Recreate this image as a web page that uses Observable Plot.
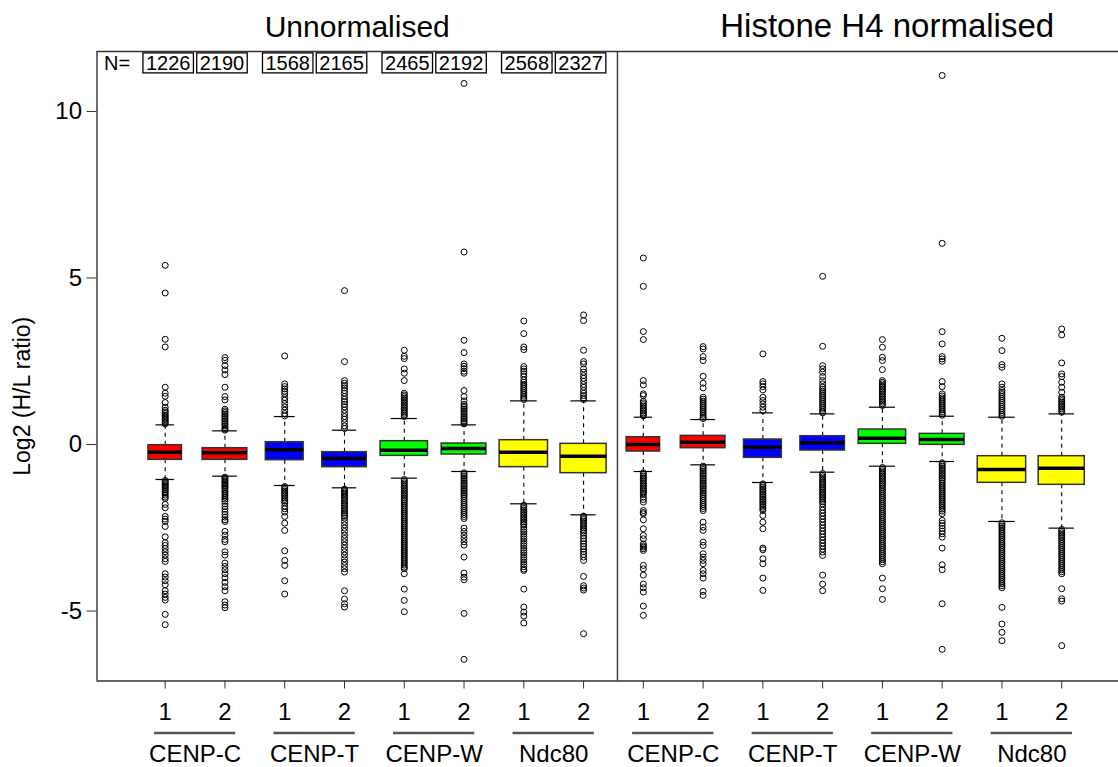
<!DOCTYPE html>
<html>
<head>
<meta charset="utf-8">
<script src="https://cdn.jsdelivr.net/npm/d3@7"></script>
<script src="https://cdn.jsdelivr.net/npm/@observablehq/plot@0.6"></script>
<style>
  html, body { margin: 0; padding: 0; background: #fff; }
  svg { display: block; }
</style>
</head>
<body>
<div id="chart"></div>
<script>
// ---------------- data ----------------
const panels = ["Unnormalised", "Histone H4 normalised"];
const groups = ["CENP-C", "CENP-T", "CENP-W", "Ndc80"];
const reps = ["1", "2"];
const groupColors = ["#ff0000", "#0000ff", "#00ff00", "#ffff00"];
const counts = [1226, 2190, 1568, 2165, 2465, 2192, 2568, 2327];
const yTicks = [-5, 0, 5, 10];

// box statistics, 16 boxes: 8 unnormalised then 8 normalised
const lowWhisker = [-1.05, -0.95, -1.23, -1.30, -1.01, -0.81, -1.78, -2.11,
                    -0.81, -0.61, -1.14, -0.83, -0.65, -0.51, -2.31, -2.51];
const q1 =         [-0.46, -0.46, -0.47, -0.68, -0.34, -0.30, -0.68, -0.86,
                    -0.21, -0.11, -0.40, -0.18, 0.02, -0.01, -1.15, -1.21];
const medians =    [-0.23, -0.25, -0.16, -0.42, -0.17, -0.12, -0.23, -0.35,
                    0.00, 0.07, -0.08, 0.05, 0.19, 0.15, -0.75, -0.71];
const q3 =         [-0.02, -0.11, 0.07, -0.23, 0.10, 0.03, 0.13, 0.02,
                    0.22, 0.26, 0.15, 0.25, 0.45, 0.32, -0.35, -0.35];
const highWhisker = [0.59, 0.41, 0.84, 0.43, 0.78, 0.59, 1.31, 1.31,
                     0.82, 0.75, 0.95, 0.92, 1.12, 0.85, 0.82, 0.92];

const outliersUnnormalised = [
  [5.38, 4.55, 3.16, 2.93, 1.72, 1.54, 1.45, 1.26, 1.12, 1.03, 0.98, 0.93, 0.88, 0.84, 0.79, 0.75, 0.71, 0.66, 0.62,
   -1.08, -1.12, -1.16, -1.2, -1.24, -1.28, -1.32, -1.36, -1.41, -1.46, -1.52, -1.58, -1.62, -1.80, -1.90, -2.16, -2.24, -2.31, -2.46, -2.77, -2.95, -3.03, -3.12, -3.22, -3.32, -3.43, -3.51, -3.88, -3.98, -4.09, -4.21, -4.39, -4.49, -4.59, -4.67, -5.10, -5.41],
  [2.61, 2.53, 2.37, 2.24, 2.10, 1.72, 1.44, 1.34, 1.06, 1.01, 0.96, 0.91, 0.86, 0.81, 0.76, 0.71, 0.66, 0.61, 0.56, 0.51, 0.46, 0.43,
   -0.98, -1.02, -1.06, -1.10, -1.14, -1.18, -1.22, -1.26, -1.30, -1.34, -1.40, -1.46, -1.52, -1.58, -1.64, -1.70, -1.78, -1.86, -1.94, -2.02, -2.10, -2.18, -2.26, -2.31, -2.61, -2.72, -2.85, -2.92, -3.22, -3.32, -3.56, -3.66, -3.76, -3.88, -4.00, -4.14, -4.27, -4.39, -4.72, -4.82, -4.90],
  [2.66, 1.82, 1.74, 1.67, 1.60, 1.52, 1.41, 1.33, 1.23, 1.13, 1.03, 0.93, 0.86,
   -1.26, -1.30, -1.35, -1.40, -1.45, -1.50, -1.55, -1.60, -1.65, -1.70, -1.75, -1.85, -1.93, -2.03, -2.16, -2.36, -2.58, -3.19, -3.48, -3.63, -4.09, -4.49],
  [4.62, 2.49, 1.92, 1.84, 1.77, 1.70, 1.62, 1.54, 1.44, 1.36, 1.29, 1.21, 1.13, 1.03, 0.93, 0.84, 0.76, 0.66, 0.56, 0.48,
   -1.34, -1.38, -1.42, -1.46, -1.50, -1.55, -1.60, -1.65, -1.70, -1.75, -1.80, -1.85, -1.90, -1.95, -2.00, -2.05, -2.10, -2.15, -2.21, -2.31, -2.41, -2.51, -2.61, -2.72, -2.82, -2.92, -3.02, -3.12, -3.22, -3.32, -3.43, -3.53, -3.63, -3.73, -3.83, -4.39, -4.64, -4.78, -4.88],
  [2.83, 2.65, 2.58, 2.27, 2.14, 1.92, 1.54, 1.49, 1.44, 1.39, 1.34, 1.29, 1.24, 1.19, 1.14, 1.09, 1.04, 0.99, 0.94, 0.89, 0.84,
   -1.05, -1.10, -1.15, -1.20, -1.25, -1.30, -1.35, -1.40, -1.45, -1.50, -1.55, -1.60, -1.65, -1.70, -1.76, -1.82, -1.88, -1.94, -2.00, -2.06, -2.12, -2.18, -2.24, -2.30, -2.36, -2.42, -2.48, -2.54, -2.60, -2.66, -2.72, -2.78, -2.84, -2.90, -2.96, -3.02, -3.08, -3.14, -3.20, -3.26, -3.32, -3.38, -3.44, -3.50, -3.56, -3.62, -3.68, -3.73, -3.88, -4.34, -4.68, -5.02],
  [10.84, 5.78, 3.13, 2.76, 2.42, 2.35, 2.28, 2.20, 2.14, 1.62, 1.44, 1.31, 1.21, 1.16, 1.11, 1.06, 1.01, 0.96, 0.91, 0.86, 0.81, 0.76, 0.71, 0.66, 0.62,
   -0.85, -0.90, -0.95, -1.00, -1.05, -1.10, -1.15, -1.20, -1.25, -1.30, -1.35, -1.40, -1.45, -1.50, -1.56, -1.62, -1.68, -1.74, -1.80, -1.86, -1.92, -1.98, -2.04, -2.10, -2.16, -2.22, -2.51, -2.61, -2.72, -2.82, -2.92, -3.02, -3.38, -3.86, -3.98, -4.06, -5.07, -6.45],
  [3.71, 3.33, 2.93, 2.85, 2.34, 2.27, 2.20, 2.12, 2.04, 1.94, 1.87, 1.81, 1.75, 1.69, 1.63, 1.57, 1.51, 1.45, 1.40, 1.35,
   -1.82, -1.87, -1.92, -1.97, -2.02, -2.07, -2.12, -2.17, -2.22, -2.27, -2.32, -2.37, -2.41, -2.48, -2.55, -2.62, -2.69, -2.76, -2.83, -2.90, -2.97, -3.04, -3.11, -3.18, -3.25, -3.32, -3.39, -3.46, -3.53, -3.60, -3.67, -3.74, -3.78, -4.34, -4.88, -5.03, -5.15, -5.36],
  [3.89, 3.72, 2.83, 2.49, 2.42, 2.27, 2.17, 2.07, 1.99, 1.90, 1.80, 1.72, 1.62, 1.54, 1.47, 1.40, 1.35,
   -2.15, -2.20, -2.25, -2.30, -2.35, -2.40, -2.45, -2.50, -2.55, -2.60, -2.66, -2.74, -2.82, -2.90, -2.98, -3.06, -3.14, -3.22, -3.30, -3.38, -3.48, -3.96, -4.24, -4.31, -4.37, -5.68]
];
const outliersNormalised = [
  [5.60, 4.75, 3.39, 3.15, 1.92, 1.79, 1.52, 1.47, 1.30, 1.25, 1.20, 1.15, 1.10, 1.05, 1.00, 0.95, 0.90, 0.86,
   -0.85, -0.90, -0.95, -1.00, -1.05, -1.10, -1.15, -1.20, -1.25, -1.30, -1.35, -1.40, -1.45, -1.50, -1.58, -1.65, -1.73, -1.98, -2.04, -2.08, -2.26, -2.53, -2.73, -2.83, -2.98, -3.04, -3.08, -3.13, -3.18, -3.63, -3.73, -3.92, -4.19, -4.30, -4.43, -4.85, -5.13],
  [2.94, 2.87, 2.64, 2.52, 2.05, 1.84, 1.70, 1.42, 1.36, 1.30, 1.24, 1.18, 1.12, 1.06, 1.00, 0.94, 0.88, 0.82, 0.78,
   -0.65, -0.70, -0.75, -0.80, -0.85, -0.90, -0.95, -1.00, -1.05, -1.10, -1.15, -1.20, -1.25, -1.30, -1.35, -1.40, -1.45, -1.50, -1.56, -1.62, -1.68, -1.74, -1.80, -1.86, -1.92, -1.98, -2.33, -2.48, -2.58, -2.93, -3.03, -3.28, -3.38, -3.48, -3.58, -3.78, -3.88, -4.01, -4.41, -4.53],
  [2.72, 1.89, 1.82, 1.74, 1.64, 1.42, 1.32, 1.22, 1.12, 1.02,
   -1.18, -1.23, -1.28, -1.33, -1.38, -1.43, -1.48, -1.53, -1.58, -1.63, -1.68, -1.73, -1.78, -1.83, -1.88, -1.93, -1.98, -2.13, -2.33, -2.53, -3.11, -3.16, -3.43, -3.58, -4.01, -4.38],
  [5.05, 2.95, 2.37, 2.27, 2.17, 2.04, 1.92, 1.82, 1.72, 1.66, 1.60, 1.54, 1.48, 1.42, 1.36, 1.30, 1.24, 1.18, 1.12, 1.06, 1.00, 0.95,
   -0.87, -0.92, -0.97, -1.02, -1.07, -1.12, -1.17, -1.22, -1.27, -1.32, -1.37, -1.42, -1.47, -1.52, -1.57, -1.62, -1.67, -1.72, -1.78, -1.88, -1.97, -2.06, -2.15, -2.24, -2.33, -2.42, -2.51, -2.60, -2.69, -2.78, -2.87, -2.96, -3.05, -3.14, -3.23, -3.33, -3.92, -4.19, -4.39],
  [3.15, 2.92, 2.62, 2.52, 2.25, 1.92, 1.87, 1.82, 1.77, 1.72, 1.67, 1.62, 1.57, 1.52, 1.47, 1.42, 1.37, 1.32, 1.27, 1.22, 1.17,
   -0.69, -0.74, -0.79, -0.84, -0.89, -0.94, -0.99, -1.04, -1.09, -1.14, -1.19, -1.24, -1.30, -1.36, -1.42, -1.48, -1.54, -1.60, -1.66, -1.72, -1.78, -1.84, -1.90, -1.96, -2.02, -2.08, -2.14, -2.20, -2.26, -2.32, -2.38, -2.44, -2.50, -2.56, -2.62, -2.68, -2.74, -2.80, -2.86, -2.92, -2.98, -3.04, -3.10, -3.16, -3.22, -3.28, -3.34, -3.40, -3.46, -3.52, -3.58, -4.01, -4.33, -4.65],
  [11.08, 6.04, 3.39, 3.02, 2.64, 2.57, 2.50, 1.89, 1.74, 1.52, 1.46, 1.40, 1.34, 1.28, 1.22, 1.16, 1.10, 1.04, 0.98, 0.92, 0.88,
   -0.55, -0.60, -0.65, -0.70, -0.75, -0.80, -0.85, -0.90, -0.95, -1.00, -1.05, -1.10, -1.16, -1.22, -1.28, -1.34, -1.40, -1.46, -1.52, -1.58, -1.64, -1.70, -1.76, -1.82, -1.88, -1.94, -2.00, -2.08, -2.28, -2.36, -2.44, -2.52, -2.60, -2.68, -2.78, -3.11, -3.61, -3.76, -4.78, -6.15],
  [3.19, 2.82, 2.40, 2.32, 1.82, 1.72, 1.62, 1.56, 1.50, 1.44, 1.38, 1.32, 1.26, 1.20, 1.14, 1.08, 1.02, 0.96, 0.90, 0.85,
   -2.35, -2.40, -2.45, -2.50, -2.56, -2.62, -2.68, -2.74, -2.80, -2.86, -2.92, -2.98, -3.04, -3.10, -3.16, -3.22, -3.28, -3.34, -3.40, -3.46, -3.52, -3.58, -3.64, -3.70, -3.76, -3.82, -3.88, -3.94, -4.00, -4.06, -4.12, -4.18, -4.24, -4.30, -4.89, -5.39, -5.64, -5.89],
  [3.47, 3.29, 2.45, 2.12, 2.04, 1.87, 1.72, 1.57, 1.42, 1.37, 1.32, 1.27, 1.22, 1.17, 1.12, 1.07, 1.02, 0.97,
   -2.55, -2.60, -2.65, -2.70, -2.75, -2.80, -2.86, -2.92, -2.98, -3.04, -3.10, -3.16, -3.22, -3.28, -3.34, -3.40, -3.46, -3.52, -3.58, -3.64, -3.70, -3.76, -3.82, -3.88, -4.33, -4.63, -4.70, -6.04]
];

// ---------------- derived tables ----------------
const maxN = d3.max(counts);
const maxBoxWidth = 0.81;          // in box-slot units (varwidth: ∝ sqrt(N))
const boxes = d3.range(16).map(i => {
  const k = i % 8;
  const n = counts[k];
  const hw = maxBoxWidth / 2 * Math.sqrt(n / maxN);
  return {
    pos: i, panel: Math.floor(i / 8), group: Math.floor(k / 2), rep: k % 2, n, hw,
    color: groupColors[Math.floor(k / 2)],
    lw: lowWhisker[i], q1: q1[i], med: medians[i], q3: q3[i], uw: highWhisker[i]
  };
});
const allOutliers = outliersUnnormalised.concat(outliersNormalised);
const outlierRows = allOutliers.flatMap((vals, i) => vals.map(v => ({pos: i, v})));
const pairs = d3.range(8).map(j => ({
  label: groups[j % 4],
  center: (boxes[2 * j].pos + boxes[2 * j + 1].pos) / 2
}));
const nLabels = counts.map((n, k) => ({
  n: String(n),
  x: (boxes[k - (k % 2)].pos + boxes[k - (k % 2) + 1].pos) / 2 + (k % 2 === 0 ? -0.45 : 0.45)
}));

// ---------------- layout ----------------
const xDomain = [-1.141, 15.95];
const yDomain = [-7.10, 11.80];
const divider = 7.567;
const titleX = [3.213, 12.08];
const titleSize = [30, 33];
const frameColor = "#333";

const chart = Plot.plot({
  width: 1118,
  height: 767,
  marginLeft: 96.5,
  marginRight: 0,
  marginTop: 51,
  marginBottom: 86.5,
  style: {fontFamily: "'Liberation Sans', Arial, Helvetica, sans-serif", fontSize: "24px", color: "#000", background: "#fff"},
  x: {domain: xDomain},
  y: {domain: yDomain},
  color: {type: "identity"},
  marks: [
    // frame lines
    Plot.ruleY([yDomain[0], yDomain[1]], {stroke: frameColor, strokeWidth: 1.4}),
    Plot.ruleX([xDomain[0], divider], {stroke: frameColor, strokeWidth: 1.4}),
    // axes
    Plot.axisY({ticks: yTicks, tickFormat: d => String(d), tickSize: 10, tickPadding: 5, fontSize: 24, label: null, stroke: frameColor}),
    Plot.axisX({ticks: d3.range(16), tickFormat: d => reps[d % 2], tickSize: 8, tickPadding: 14, fontSize: 24, label: null, stroke: frameColor}),
    // whiskers
    Plot.ruleX(boxes, {x: "pos", y1: "q3", y2: "uw", stroke: "#000", strokeWidth: 1.1, strokeDasharray: "4,4"}),
    Plot.ruleX(boxes, {x: "pos", y1: "q1", y2: "lw", stroke: "#000", strokeWidth: 1.1, strokeDasharray: "4,4"}),
    Plot.ruleY(boxes, {y: "uw", x1: d => d.pos - d.hw * 0.55, x2: d => d.pos + d.hw * 0.55, stroke: "#000", strokeWidth: 1.2}),
    Plot.ruleY(boxes, {y: "lw", x1: d => d.pos - d.hw * 0.55, x2: d => d.pos + d.hw * 0.55, stroke: "#000", strokeWidth: 1.2}),
    // outliers
    Plot.dot(outlierRows, {x: "pos", y: "v", r: 3, fill: "none", stroke: "#000", strokeWidth: 1}),
    // boxes
    Plot.rect(boxes, {x1: d => d.pos - d.hw, x2: d => d.pos + d.hw, y1: "q1", y2: "q3", fill: "color", stroke: "#333", strokeWidth: 1.5}),
    Plot.ruleY(boxes, {y: "med", x1: d => d.pos - d.hw, x2: d => d.pos + d.hw, stroke: "#000", strokeWidth: 3.5}),
    // N labels
    Plot.text(["N="], {frameAnchor: "top-left", dx: 7, dy: 12, textAnchor: "start", lineAnchor: "middle", fontSize: 20}),
    Plot.text(nLabels, {x: "x", text: "n", frameAnchor: "top", dy: 12, textAnchor: "middle", lineAnchor: "middle", fontSize: 20}),
    // group underline + labels
    Plot.ruleY(pairs, {y: () => yDomain[0], x1: d => d.center - 0.68, x2: d => d.center + 0.68, dy: 52, stroke: "#555", strokeWidth: 2.5}),
    Plot.text(pairs, {x: "center", text: "label", frameAnchor: "bottom", dy: 73.5, textAnchor: "middle", lineAnchor: "middle", fontSize: 24}),
    // panel titles
    Plot.text(panels, {x: (d, i) => titleX[i], frameAnchor: "top", dy: -15, textAnchor: "middle", lineAnchor: "bottom", fontSize: (d, i) => titleSize[i]}),
    // y title
    Plot.text(["Log2 (H/L ratio)"], {frameAnchor: "left", dx: -74, dy: 30, rotate: -90, textAnchor: "middle", lineAnchor: "middle", fontSize: 23})
  ]
});

document.getElementById("chart").append(chart);

// draw the frames around the N counts, sized to each text
const ns = "http://www.w3.org/2000/svg";
const countStrings = new Set(counts.map(String));
chart.querySelectorAll("text").forEach(t => {
  if (!countStrings.has(t.textContent.trim())) return;
  const b = t.getBBox();
  const r = document.createElementNS(ns, "rect");
  r.setAttribute("x", b.x - 3);
  r.setAttribute("width", b.width + 6);
  r.setAttribute("y", b.y + b.height / 2 - 10);
  r.setAttribute("height", 20);
  r.setAttribute("fill", "none");
  r.setAttribute("stroke", "#000");
  r.setAttribute("stroke-width", 1.3);
  const tr = t.getAttribute("transform");
  if (tr) r.setAttribute("transform", tr);
  t.parentNode.insertBefore(r, t);
});
</script>
</body>
</html>
